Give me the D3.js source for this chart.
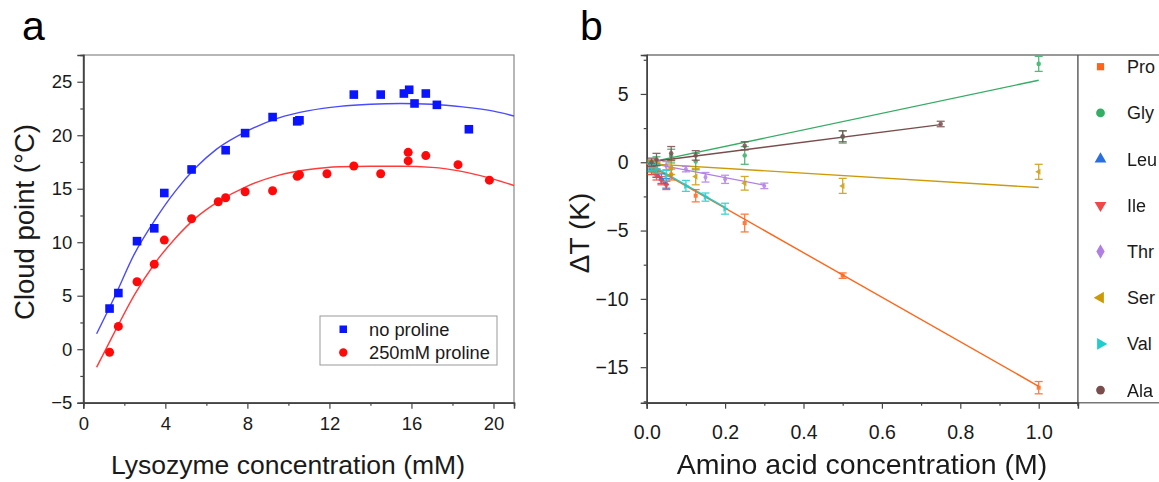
<!DOCTYPE html>
<html><head><meta charset="utf-8">
<script src="https://cdn.jsdelivr.net/npm/d3@7"></script>
<style>body{margin:0;background:#fff}svg{display:block;font-family:"Liberation Sans",Arial,sans-serif}</style>
</head><body><svg id="c" width="1159" height="482"></svg>
<script>
// ---------- Panel a data ----------
const noProX = [1.28,1.71,2.62,3.46,3.95,5.28,6.94,7.89,9.23,10.43,10.54,13.19,14.5,15.63,15.89,16.15,16.7,17.24,18.8];
const noProY = [3.8,5.25,10.1,11.3,14.6,16.8,18.6,20.2,21.7,21.3,21.4,23.8,23.8,23.9,24.25,22.97,23.9,22.84,20.56];
const proX = [1.28,1.71,2.62,3.46,3.95,5.28,6.58,6.94,7.89,9.23,10.43,10.54,11.88,13.19,14.5,15.84,15.84,16.7,18.27,19.8];
const proY = [-0.28,2.13,6.31,7.94,10.2,12.19,13.78,14.16,14.72,14.81,16.16,16.31,16.4,17.13,16.4,18.4,17.6,18.1,17.25,15.8];
const fitAX = [0.65,1.5,2.5,3.5,4.5,5.5,6.5,8,9.5,11,12.5,14,15.5,17,18.5,20,21];
const fitNoProY = [1.44,4.78,8.94,12.1,14.8,17.0,18.7,20.4,21.6,22.3,22.7,22.9,22.97,22.9,22.65,22.25,21.8];
const fitProY = [-1.69,1.5,5.1,8.06,10.4,12.3,13.7,15.25,16.25,16.8,17.06,17.1,17.1,17.0,16.6,15.9,15.3];
const aXTicks = [0,4,8,12,16,20];
const aYTicks = [-5,0,5,10,15,20,25];
const aLegend = ["no proline","250mM proline"];

// ---------- Panel b data ----------
const aminoNames = ["Pro","Gly","Leu","Ile","Thr","Ser","Val","Ala"];
const aminoColors = ["#ff6418","#35ad65","#2a6fe0","#f04848","#b07fe4","#cc9a06","#1fcdcd","#7a4d4d"];
const aminoShapes = ["square","circle","triangle","triangleDown","diamond","triangleLeft","triangleRight","circle"];
const proConc = [0.0125,0.025,0.0625,0.125,0.25,0.5,1.0];
const proDT = [-0.4,-0.6,-0.9,-2.45,-4.45,-8.3,-16.5];
const proErr = [0.5,0.5,0.4,0.45,0.65,0.2,0.45];
const glyConc = [0.0125,0.025,0.0625,0.125,0.25,0.5,1.0];
const glyDT = [-0.2,0.1,0.45,0.05,0.5,1.85,7.2];
const glyErr = [0.3,0.3,0.5,0.6,0.65,0.45,0.55];
const leuConc = [0.0125,0.025,0.0375,0.05];
const leuDT = [-0.4,-0.8,-1.2,-1.55];
const leuErr = [0.3,0.3,0.35,0.35];
const ileConc = [0.0125,0.025,0.0375,0.05];
const ileDT = [-0.6,-1.0,-1.35,-1.7];
const ileErr = [0.3,0.3,0.3,0.3];
const thrConc = [0.0125,0.025,0.05,0.1,0.15,0.2,0.3];
const thrDT = [-0.1,-0.2,-0.25,-0.5,-1.1,-1.25,-1.73];
const thrErr = [0.3,0.3,0.3,0.2,0.35,0.3,0.2];
const serConc = [0.0125,0.025,0.0625,0.125,0.25,0.5,1.0];
const serDT = [-0.3,-0.4,-0.4,-1.05,-1.54,-1.73,-0.7];
const serErr = [0.4,0.4,0.5,0.6,0.5,0.55,0.55];
const valConc = [0.0125,0.025,0.05,0.1,0.15,0.2];
const valDT = [-0.3,-0.5,-1.0,-1.73,-2.55,-3.4];
const valErr = [0.3,0.3,0.4,0.4,0.3,0.4];
const alaConc = [0.0125,0.025,0.0625,0.125,0.25,0.5,0.75];
const alaDT = [0.0,0.2,0.65,0.5,1.2,1.9,2.8];
const alaErr = [0.3,0.45,0.5,0.35,0.3,0.4,0.2];
// fit line end points [x0, x1], [y0, y1]
const fitBX = [[0,1.0],[0,1.0],[0.005,0.05],[0.005,0.05],[0.005,0.3],[0,1.0],[0.005,0.2],[0,0.75]];
const fitBY = [[-0.1,-16.4],[-0.05,6.0],[-0.15,-1.55],[-0.3,-1.7],[-0.05,-1.68],[-0.1,-1.85],[-0.1,-3.3],[0.0,2.75]];
const bXTicks = [0,0.2,0.4,0.6,0.8,1.0];
const bYTicks = [-15,-10,-5,0,5];

const svg = d3.select("#c");
const txt = "#1a1a1a", axCol = "#444";

// ================= Panel a =================
const xa = d3.scaleLinear().domain([0,21]).range([83.3,514]);
const ya = d3.scaleLinear().domain([-5,27.5]).range([402.7,55]);
const ga = svg.append("g");
ga.append("rect").attr("x",xa(0)).attr("y",ya(27.5)).attr("width",xa(21)-xa(0)).attr("height",ya(-5)-ya(27.5))
  .attr("fill","none").attr("stroke","#888").attr("stroke-width",1.2);
ga.append("g").attr("transform",`translate(0,${ya(-5)})`)
  .call(d3.axisBottom(xa).tickValues(aXTicks).tickSize(6).tickPadding(8).tickFormat(d3.format("d")));
ga.append("g").attr("transform",`translate(0,${ya(-5)})`)
  .call(d3.axisBottom(xa).tickValues(d3.range(2,21,4)).tickSize(3).tickFormat(""));
ga.append("g").attr("transform",`translate(${xa(0)},0)`)
  .call(d3.axisLeft(ya).tickValues(aYTicks).tickSize(6).tickPadding(5).tickFormat(d=>d<0?"\u2212"+(-d):d));
ga.append("g").attr("transform",`translate(${xa(0)},0)`)
  .call(d3.axisLeft(ya).tickValues(d3.range(-2.5,27.5,5)).tickSize(3).tickFormat(""));
ga.selectAll(".domain").attr("stroke",axCol).attr("stroke-width",1.5);
ga.selectAll(".tick line").attr("stroke",axCol).attr("stroke-width",1.2);
ga.selectAll(".tick text").attr("font-size",18.5).attr("fill",txt).attr("font-family","Liberation Sans, Arial");

const lineA = d3.line().x(d=>xa(d[0])).y(d=>ya(d[1])).curve(d3.curveMonotoneX);
ga.append("path").datum(fitAX.map((x,i)=>[x,fitNoProY[i]])).attr("d",lineA).attr("fill","none").attr("stroke","#4a4aff").attr("stroke-width",1.4);
ga.append("path").datum(fitAX.map((x,i)=>[x,fitProY[i]])).attr("d",lineA).attr("fill","none").attr("stroke","#ff3b3b").attr("stroke-width",1.4);
ga.selectAll(".sq").data(noProX.map((x,i)=>[x,noProY[i]])).join("rect")
  .attr("x",d=>xa(d[0])-4.3).attr("y",d=>ya(d[1])-4.3).attr("width",8.6).attr("height",8.6).attr("fill","#0a14ff");
ga.selectAll(".ci").data(proX.map((x,i)=>[x,proY[i]])).join("circle")
  .attr("cx",d=>xa(d[0])).attr("cy",d=>ya(d[1])).attr("r",4.5).attr("fill","#ff0a0a");
// legend a
ga.append("rect").attr("x",320).attr("y",316).attr("width",177).attr("height",49).attr("fill","#fff").attr("stroke","#999").attr("stroke-width",1);
ga.append("rect").attr("x",339.5).attr("y",325.5).attr("width",7.5).attr("height",7.5).attr("fill","#0a14ff");
ga.append("circle").attr("cx",343.3).attr("cy",352.5).attr("r",4.2).attr("fill","#ff0a0a");
ga.selectAll(".lt").data(aLegend).join("text").attr("x",369).attr("y",(d,i)=>336+i*23)
  .attr("font-size",18.3).attr("fill",txt).text(d=>d);
// titles
ga.append("text").attr("x",288).attr("y",474).attr("text-anchor","middle").attr("font-size",26.5).attr("fill",txt).text("Lysozyme concentration (mM)");
ga.append("text").attr("transform","translate(34,222) rotate(-90)").attr("text-anchor","middle").attr("font-size",27.5).attr("fill",txt).text("Cloud point (\u00B0C)");
ga.append("text").attr("x",22).attr("y",40).attr("font-size",41).attr("fill","#000").text("a");

// ================= Panel b =================
const xb = d3.scaleLinear().domain([0,1.1]).range([646.7,1077.9]);
const yb = d3.scaleLinear().domain([-17.6,7.85]).range([402.7,55]);
const gb = svg.append("g");
gb.append("line").attr("x1",xb(0)).attr("x2",1159).attr("y1",yb(7.85)).attr("y2",yb(7.85)).attr("stroke","#777").attr("stroke-width",1.4);
gb.append("line").attr("x1",xb(0)).attr("x2",1159).attr("y1",yb(-17.6)).attr("y2",yb(-17.6)).attr("stroke","#777").attr("stroke-width",1.4);
gb.append("line").attr("x1",xb(1.1)).attr("x2",xb(1.1)).attr("y1",yb(7.85)).attr("y2",yb(-17.6)+3).attr("stroke","#555").attr("stroke-width",1.4);
gb.append("g").attr("transform",`translate(0,${yb(-17.6)})`)
  .call(d3.axisBottom(xb).tickValues(bXTicks).tickSize(6).tickPadding(16).tickFormat(d3.format(".1f")));
gb.append("g").attr("transform",`translate(0,${yb(-17.6)})`)
  .call(d3.axisBottom(xb).tickValues([0.1,0.3,0.5,0.7,0.9]).tickSize(3).tickFormat(""));
gb.append("g").attr("transform",`translate(${xb(0)},0)`)
  .call(d3.axisLeft(yb).tickValues(bYTicks).tickSize(6).tickPadding(12).tickFormat(d=>d<0?"\u2212"+(-d):d));
gb.append("g").attr("transform",`translate(${xb(0)},0)`)
  .call(d3.axisLeft(yb).tickValues([-17.5,-12.5,-7.5,-2.5,2.5,7.5]).tickSize(3).tickFormat(""));
gb.selectAll(".domain").attr("stroke",axCol).attr("stroke-width",1.5);
gb.selectAll(".tick line").attr("stroke",axCol).attr("stroke-width",1.2);
gb.selectAll(".tick text").attr("font-size",19.5).attr("fill",txt).attr("font-family","Liberation Sans, Arial");

const concs = [proConc,glyConc,leuConc,ileConc,thrConc,serConc,valConc,alaConc];
const dts = [proDT,glyDT,leuDT,ileDT,thrDT,serDT,valDT,alaDT];
const errs = [proErr,glyErr,leuErr,ileErr,thrErr,serErr,valErr,alaErr];
const symMap = {square:d3.symbolSquare,circle:d3.symbolCircle,triangle:d3.symbolTriangle,
  triangleDown:d3.symbolTriangle,diamond:d3.symbolDiamond,triangleLeft:d3.symbolTriangle,triangleRight:d3.symbolTriangle};
const rotMap = {square:0,circle:0,triangle:0,triangleDown:180,diamond:0,triangleLeft:-90,triangleRight:90};
const plot = gb.append("g");
aminoNames.forEach((n,k)=>{
  const c = aminoColors[k];
  plot.append("line").attr("x1",xb(fitBX[k][0])).attr("x2",xb(fitBX[k][1]))
    .attr("y1",yb(fitBY[k][0])).attr("y2",yb(fitBY[k][1])).attr("stroke",c).attr("stroke-width",1.4);
});
aminoNames.forEach((n,k)=>{
  const c = aminoColors[k];
  const g = plot.append("g").attr("opacity",0.85);
  concs[k].forEach((x,i)=>{
    const X = xb(x), y0 = yb(dts[k][i]-errs[k][i]), y1 = yb(dts[k][i]+errs[k][i]);
    g.append("line").attr("x1",X).attr("x2",X).attr("y1",y0).attr("y2",y1).attr("stroke",c).attr("stroke-width",1.3);
    g.append("line").attr("x1",X-4).attr("x2",X+4).attr("y1",y0).attr("y2",y0).attr("stroke",c).attr("stroke-width",1.3);
    g.append("line").attr("x1",X-4).attr("x2",X+4).attr("y1",y1).attr("y2",y1).attr("stroke",c).attr("stroke-width",1.3);
    g.append("path").attr("d",d3.symbol().type(symMap[aminoShapes[k]]).size(16)())
      .attr("transform",`translate(${X},${yb(dts[k][i])}) rotate(${rotMap[aminoShapes[k]]})`).attr("fill",c);
  });
});
// legend b
aminoNames.forEach((n,k)=>{
  const Y = 66.7 + k*46.2;
  gb.append("path").attr("d",d3.symbol().type(symMap[aminoShapes[k]]).size(aminoShapes[k]==="square"?52:60)())
    .attr("transform",`translate(1100.5,${Y}) rotate(${rotMap[aminoShapes[k]]})`).attr("fill",aminoColors[k]);
  gb.append("text").attr("x",1127).attr("y",Y+6.5).attr("font-size",18).attr("fill",txt).text(n);
});
gb.append("text").attr("x",862).attr("y",474).attr("text-anchor","middle").attr("font-size",28.5).attr("fill",txt).text("Amino acid concentration (M)");
gb.append("text").attr("transform","translate(589,233) rotate(-90)").attr("text-anchor","middle").attr("font-size",28).attr("fill",txt).text("\u0394T (K)");
gb.append("text").attr("x",580).attr("y",40).attr("font-size",41).attr("fill","#000").text("b");
</script></body></html>
